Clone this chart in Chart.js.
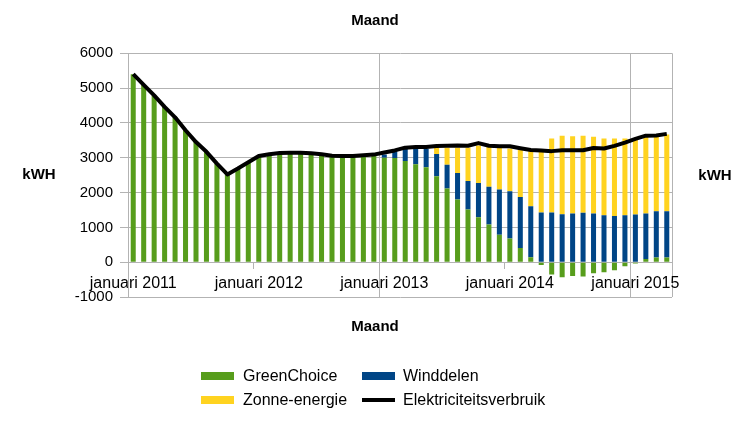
<!DOCTYPE html>
<html>
<head>
<meta charset="utf-8">
<script src="https://cdn.jsdelivr.net/npm/chart.js@4.4.1/dist/chart.umd.min.js"></script>
<style>
html,body{margin:0;padding:0;background:#fff;}
#wrap{position:relative;width:750px;height:423px;font-family:"Liberation Sans",Arial,sans-serif;color:#000;overflow:hidden;}
#c{position:absolute;left:0;top:0;}
.axt{position:absolute;font-weight:bold;font-size:15px;line-height:18px;height:18px;width:60px;text-align:center;}
.lg-sw{position:absolute;}
.lg-tx{position:absolute;font-size:16px;line-height:18px;height:18px;white-space:nowrap;}
</style>
</head>
<body>
<div id="wrap">
<canvas id="c" width="750" height="423"></canvas>
<div class="axt" style="left:9px;top:165px;">kWH</div>
<div class="axt" style="left:685px;top:166px;">kWH</div>
<div id="legend"></div>
</div>
<script>
// ---- data ----
const categories = [
 'januari 2011','februari 2011','maart 2011','april 2011','mei 2011','juni 2011','juli 2011','augustus 2011','september 2011','oktober 2011','november 2011','december 2011',
 'januari 2012','februari 2012','maart 2012','april 2012','mei 2012','juni 2012','juli 2012','augustus 2012','september 2012','oktober 2012','november 2012','december 2012',
 'januari 2013','februari 2013','maart 2013','april 2013','mei 2013','juni 2013','juli 2013','augustus 2013','september 2013','oktober 2013','november 2013','december 2013',
 'januari 2014','februari 2014','maart 2014','april 2014','mei 2014','juni 2014','juli 2014','augustus 2014','september 2014','oktober 2014','november 2014','december 2014',
 'januari 2015','februari 2015','maart 2015','april 2015'
];
const greenChoice = [
 5400, 5090, 4790, 4460, 4160, 3790, 3450, 3170, 2830, 2520, 2690, 2870,
 3050, 3100, 3135, 3140, 3140, 3130, 3100, 3060, 3050, 3050, 3070, 3060,
 3000, 2990, 2910, 2810, 2730, 2470, 2120, 1800, 1510, 1290, 1080, 790,
 680, 410, 140, -80, -355, -430, -395, -410, -320, -290, -230, -115,
 -40, 95, 135, 135
];
const winddelen = [
 0, 0, 0, 0, 0, 0, 0, 0, 0, 0, 0, 0,
 0, 0, 0, 0, 0, 0, 0, 0, 0, 0, 0, 0,
 90, 195, 350, 450, 530, 640, 680, 760, 820, 985, 1090, 1295,
 1355, 1460, 1470, 1430, 1430, 1380, 1400, 1420, 1400, 1345, 1325, 1345,
 1370, 1305, 1325, 1325
];
const zonneEnergie = [
 0, 0, 0, 0, 0, 0, 0, 0, 0, 0, 0, 0,
 0, 0, 0, 0, 0, 0, 0, 0, 0, 0, 0, 0,
 0, 0, 0, 0, 0, 180, 490, 730, 960, 1075, 1140, 1210,
 1230, 1375, 1575, 1755, 2120, 2255, 2215, 2215, 2200, 2205, 2225, 2205,
 2160, 2200, 2160, 2205
];
const elektriciteitsverbruik = [
 5400, 5090, 4790, 4460, 4160, 3790, 3450, 3170, 2830, 2520, 2690, 2870,
 3050, 3100, 3135, 3140, 3140, 3130, 3100, 3060, 3050, 3050, 3070, 3090,
 3150, 3210, 3290, 3310, 3310, 3340, 3345, 3355, 3345, 3420, 3345, 3330,
 3330, 3275, 3225, 3205, 3190, 3215, 3215, 3215, 3280, 3265, 3340, 3435,
 3540, 3635, 3640, 3685
];
const yTicks = { min: -1000, max: 6000, step: 1000 };

// ---- styling ----
const FONT = '"Liberation Sans", Arial, sans-serif';
const GRID = '#b3b3b3';
const TRANSPARENT = 'rgba(0,0,0,0)';

const chart = new Chart(document.getElementById('c'), {
  data: {
    labels: categories,
    datasets: [
      { type: 'bar', label: 'GreenChoice', data: greenChoice, backgroundColor: '#579d1c', borderWidth: 0, stack: 'mix', order: 1 },
      { type: 'bar', label: 'Winddelen', data: winddelen, backgroundColor: '#004586', borderWidth: 0, stack: 'mix', order: 1 },
      { type: 'bar', label: 'Zonne-energie', data: zonneEnergie, backgroundColor: '#ffd320', borderWidth: 0, stack: 'mix', order: 1 },
      { type: 'line', label: 'Elektriciteitsverbruik', data: elektriciteitsverbruik, borderColor: '#000', backgroundColor: '#000',
        borderWidth: 4, pointRadius: 0, tension: 0, fill: false, stack: 'verbruik', order: 0, borderJoinStyle: 'round' }
    ]
  },
  options: {
    responsive: false,
    animation: false,
    events: [],
    datasets: { bar: { barPercentage: 0.48, categoryPercentage: 1.0 } },
    layout: { padding: { left: 0, right: 0, top: 0, bottom: 87 } },
    plugins: {
      legend: { display: false },
      tooltip: { enabled: false },
      title: { display: true, text: 'Maand', color: '#000', font: { family: FONT, size: 15, weight: 'bold' }, padding: { top: 11.4, bottom: 23.9 } },
      subtitle: { display: true, position: 'bottom', text: 'Maand', color: '#000', font: { family: FONT, size: 15, weight: 'bold' }, padding: { top: 21, bottom: 0 } }
    },
    scales: {
      x: {
        type: 'category',
        position: { y: 0 },
        offset: true,
        stacked: true,
        grid: {
          offset: true,
          lineWidth: 1,
          color: (c) => (c.type !== 'tick' || c.index % 24 === 0) ? GRID : TRANSPARENT,
          drawTicks: true,
          tickLength: 6,
          tickColor: (c) => (c.type === 'tick' && c.index % 12 === 0) ? GRID : TRANSPARENT
        },
        border: { display: true, color: GRID, width: 1 },
        ticks: {
          autoSkip: false, maxRotation: 0, minRotation: 0, padding: 6,
          color: '#000', font: { family: FONT, size: 16 },
          callback: (v, i) => (i % 12 === 0 ? categories[i] : '')
        },
        afterFit: (s) => { s.height = 30; }
      },
      y: {
        stacked: true,
        min: yTicks.min, max: yTicks.max,
        ticks: { stepSize: yTicks.step, color: '#000', font: { family: FONT, size: 15 }, padding: 7,
          callback: (v) => String(v) },
        grid: { color: GRID, lineWidth: 1, tickLength: 8 },
        border: { display: true, color: GRID, width: 1 },
        afterFit: (s) => { s.width = 128; }
      },
      yRight: {
        type: 'linear',
        position: 'right',
        display: true,
        min: yTicks.min, max: yTicks.max,
        ticks: { display: false },
        grid: { display: false, drawTicks: false },
        border: { display: false },
        afterFit: (s) => { s.width = 78; }
      }
    }
  }
});

// ---- HTML legend built from the chart's datasets ----
(function buildLegend() {
  const lg = document.getElementById('legend');
  const colSw = [201, 362], colTx = [243, 403], rowY = [375.5, 399.5];
  chart.data.datasets.forEach((ds, i) => {
    const col = i % 2, row = Math.floor(i / 2);
    const isLine = ds.type === 'line';
    const h = isLine ? 4 : 8;
    const sw = document.createElement('div');
    sw.className = 'lg-sw';
    sw.style.left = colSw[col] + 'px';
    sw.style.top = (rowY[row] - h / 2) + 'px';
    sw.style.width = '33px';
    sw.style.height = h + 'px';
    sw.style.background = isLine ? ds.borderColor : ds.backgroundColor;
    lg.appendChild(sw);
    const tx = document.createElement('div');
    tx.className = 'lg-tx';
    tx.style.left = colTx[col] + 'px';
    tx.style.top = (rowY[row] - 9) + 'px';
    tx.textContent = ds.label;
    lg.appendChild(tx);
  });
})();
</script>
</body>
</html>
